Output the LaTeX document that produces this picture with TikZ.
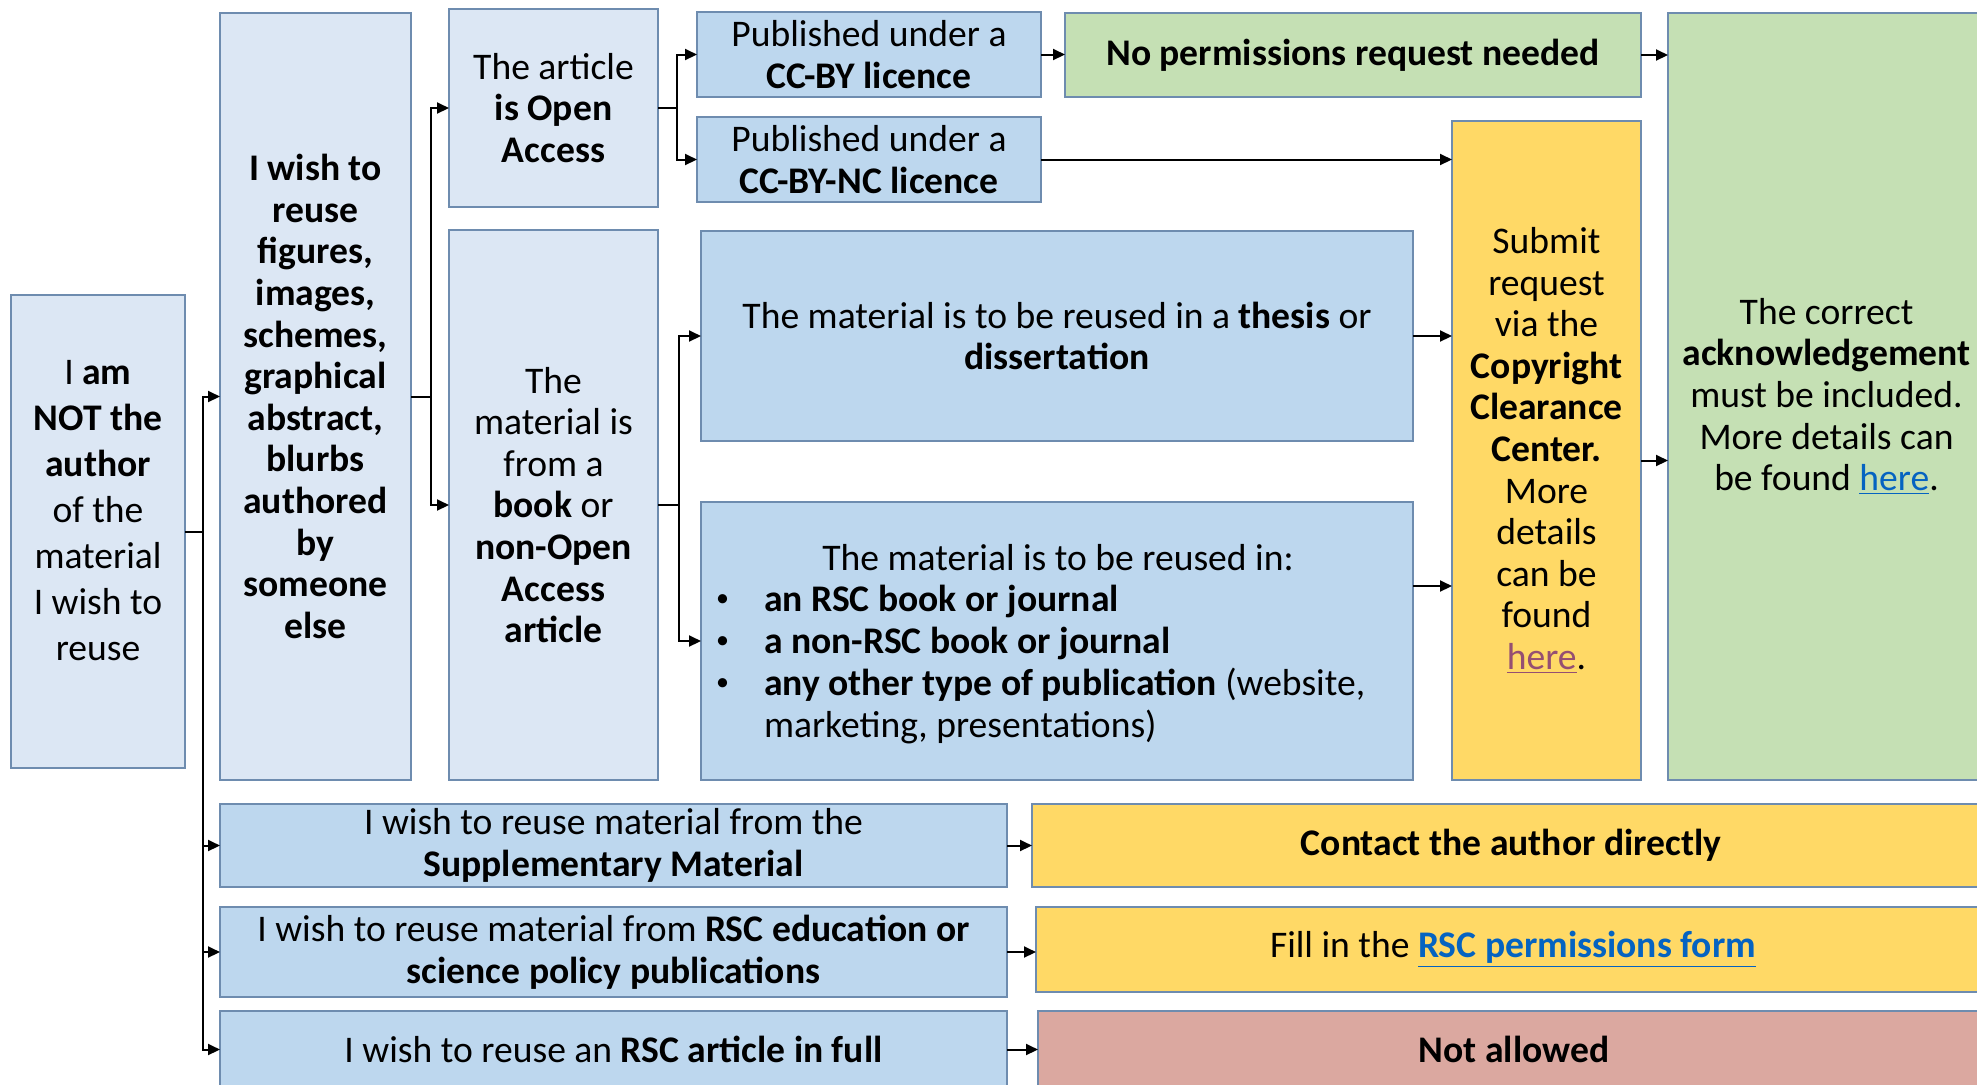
\documentclass[tikz,border=0pt]{standalone}
\usepackage{fontspec}
\setmainfont{Carlito}
\usetikzlibrary{calc,arrows.meta}
\definecolor{lb}{RGB}{220,231,244}
\definecolor{mb}{RGB}{189,215,238}
\definecolor{gr}{RGB}{197,224,180}
\definecolor{ye}{RGB}{255,217,102}
\definecolor{pk}{RGB}{219,168,160}
\definecolor{bd}{RGB}{110,140,175}
\definecolor{lnk}{RGB}{5,99,193}
\definecolor{vis}{RGB}{149,79,114}
\tikzset{
  box/.style={draw=bd, line width=0.75pt, inner sep=0pt, outer sep=0pt, align=center,
    font=\fontsize{18.8pt}{20.8pt}\selectfont},
  txt/.style={inner sep=0pt, outer sep=0pt, align=center, font=\fontsize{18.8pt}{20.8pt}\selectfont},
  conn/.style={line width=1pt, black},
  arr/.style={conn, -{Triangle[length=6pt,width=5.5pt]}},
}
% \mybox{name}{x1}{y1}{x2}{y2}{style}{text}  (pixel coordinates)
\newcommand\mybox[7]{%
  \pgfmathsetmacro\myboxcx{(#2+#4)/2}%
  \pgfmathsetmacro\myboxcy{(#3+#5)/2}%
  \pgfmathsetmacro\myboxw{(#4-#2)*0.5}%
  \pgfmathsetmacro\myboxh{(#5-#3)*0.5}%
  \node[box,#6,minimum width=\myboxw pt,minimum height=\myboxh pt] (#1) at (\myboxcx,\myboxcy) {#7};%
}
\newcommand\smallbullet{\raisebox{0.12em}{\fontsize{13pt}{13pt}\selectfont\textbullet}}
\begin{document}
\begin{tikzpicture}[x=0.5pt,y=-0.5pt]
\useasboundingbox (0,0) rectangle (1977,1084);
\clip (0,0) rectangle (1977,1084);
\fill[white] (0,0) rectangle (1977,1084);
% column 1
\mybox{A}{11}{295}{185}{768}{fill=lb}{}
\node[txt, font=\fontsize{18.8pt}{23pt}\selectfont] (Atext) at (98,511)
  {I \textbf{am}\\\textbf{NOT the}\\\textbf{author}\\of the\\material\\I wish to\\reuse};
% column 2
\mybox{B}{220}{13}{411}{780}{fill=lb}
  {\textbf{I wish to}\\\textbf{reuse}\\\textbf{figures,}\\\textbf{images,}\\\textbf{schemes,}\\\textbf{graphical}\\\textbf{abstract,}\\\textbf{blurbs}\\\textbf{authored}\\\textbf{by}\\\textbf{someone}\\\textbf{else}}
% column 3
\mybox{C}{449}{9}{658}{207}{fill=lb}{The article\\\textbf{is Open}\\\textbf{Access}}
\mybox{D}{449}{230}{658}{780}{fill=lb}
  {The\\material is\\from a\\\textbf{book} or\\\textbf{non-Open}\\\textbf{Access}\\\textbf{article}}
% column 4 and beyond
\mybox{E}{697}{12}{1041}{97}{fill=mb}{Published under a\\\textbf{CC-BY licence}}
\mybox{F}{697}{117}{1041}{202}{fill=mb}{Published under a\\\textbf{CC-BY-NC licence}}
\mybox{G}{1065}{13}{1641}{97}{fill=gr}{\textbf{No permissions request needed}}
\mybox{H}{701}{231}{1413}{441}{fill=mb}
  {The material is to be reused in a \textbf{thesis} or\\\textbf{dissertation}}
\mybox{I}{701}{502}{1413}{780}{fill=mb}{}
\node[txt] (Ititle) at (1058,558) {The material is to be reused in:};
\node[txt, anchor=west, align=left, font=\fontsize{18.8pt}{21pt}\selectfont] (Ilist) at (714,666)
  {\begin{tabular}{@{}l@{}l@{}}
   \makebox[25pt][l]{\hspace{1pt}\smallbullet} & \textbf{an RSC book or journal}\\
   \makebox[25pt][l]{\hspace{1pt}\smallbullet} & \textbf{a non-RSC book or journal}\\
   \makebox[25pt][l]{\hspace{1pt}\smallbullet} & \textbf{any other type of publication} (website,\\
   & marketing, presentations)
   \end{tabular}};
\mybox{J}{1452}{121}{1641}{780}{fill=ye}
  {Submit\\request\\via the\\\textbf{Copyright}\\\textbf{Clearance}\\\textbf{Center.}\\More\\details\\can be\\found\\\textcolor{vis}{\underline{here}}.}
\mybox{K}{1668}{13}{1985}{780}{fill=gr}
  {The correct\\\textbf{acknowledgement}\\must be included.\\More details can\\be found \textcolor{lnk}{\underline{here}}.}
% bottom rows
\mybox{R1}{220}{804}{1007}{887}{fill=mb}{I wish to reuse material from the\\\textbf{Supplementary Material}}
\mybox{R2}{220}{907}{1007}{997}{fill=mb}{I wish to reuse material from \textbf{RSC education or}\\\textbf{science policy publications}}
\mybox{R3}{220}{1011}{1007}{1088}{fill=mb}{I wish to reuse an \textbf{RSC article in full}}
\mybox{O1}{1032}{804}{1990}{887}{fill=ye}{\textbf{Contact the author directly}}
\mybox{O2}{1036}{907}{1990}{992}{fill=ye}{Fill in the \textcolor{lnk}{\underline{\textbf{RSC permissions form}}}}
\mybox{O3}{1038}{1011}{1990}{1088}{fill=pk}{\textbf{Not allowed}}
% trunks
\coordinate (t1) at (203,0);
\coordinate (t2) at (431,0);
\coordinate (t3) at (677,0);
\coordinate (t4) at (679,0);
\draw[arr] (A.east) -- (A.east -| t1) |- (B.west);
\draw[arr] (A.east -| t1) |- (R1.west);
\draw[arr] (A.east -| t1) |- (R2.west);
\draw[arr] (A.east -| t1) |- (R3.west);
\draw[arr] (B.east) -- (B.east -| t2) |- (C.west);
\draw[arr] (B.east -| t2) |- (D.west);
\draw[arr] (C.east) -- (C.east -| t3) |- (E.west);
\draw[arr] (C.east -| t3) |- (F.west);
\draw[arr] (D.east) -- (D.east -| t4) |- (H.west);
\draw[arr] (D.east -| t4) |- (I.west);
% direct arrows
\coordinate (iout) at ($(I.east)+(0,-55)$);
\coordinate (jout) at ($(J.east)+(0,10)$);
\draw[arr] (E.east) -- (E.east -| G.west);
\draw[arr] (F.east) -- (F.east -| J.west);
\draw[arr] (G.east) -- (G.east -| K.west);
\draw[arr] (H.east) -- (H.east -| J.west);
\draw[arr] (iout) -- (iout -| J.west);
\draw[arr] (jout) -- (jout -| K.west);
\draw[arr] (R1.east) -- (R1.east -| O1.west);
\draw[arr] (R2.east) -- (R2.east -| O2.west);
\draw[arr] (R3.east) -- (R3.east -| O3.west);
\end{tikzpicture}
\end{document}
